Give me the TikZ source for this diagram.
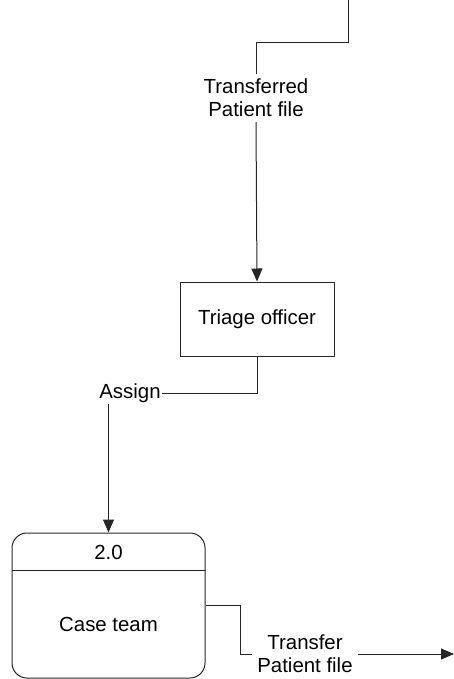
\documentclass[tikz,border=0pt]{standalone}
\usepackage{fontspec}
\setmainfont[Ligatures={NoCommon}]{Liberation Sans}
\usetikzlibrary{arrows.meta,calc}
\begin{document}
\begin{tikzpicture}[x=1pt,y=-1pt,
  line/.style={draw=black!85,line width=1pt},
  flow/.style={line,-{Triangle[length=13pt,width=11pt]}},
  lbl/.style={font=\fontsize{20.4}{23}\selectfont,align=center,inner sep=5pt},
  procbox/.style={line,rectangle,minimum width=154pt,minimum height=74pt,inner sep=0pt,font=\fontsize{20.4}{23}\selectfont},
  casebox/.style={line,rectangle,rounded corners=15pt,minimum width=193pt,minimum height=145pt,inner sep=0pt}
]
\useasboundingbox (0,0) rectangle (454,679);
% nodes
\coordinate (src) at (348,0);
\coordinate (bend) at (348,43);
\node[lbl] (t1) at (256,98) {Transferred\\Patient file};
\node[procbox] (triage) at (257,319) {Triage officer};
\node[lbl,inner sep=1pt] (assign) at (130,393) {Assign};
\node[casebox] (case) at (108.5,605.5) {};
\draw[line] (case.west |- 0,570) -- (case.east |- 0,570);
\node[lbl,inner sep=0pt] (num) at (108.5,552) {2.0};
\node[lbl,inner sep=0pt] (casetxt) at (108.5,624) {Case team};
\node[lbl] (t2) at (305,654) {Transfer\\Patient file};
\coordinate (out) at (454,654);
% connectors
\draw[line] (src) -- (bend) -| (t1.north);
\draw[flow] (t1.south) -- (triage.north);
\draw[line] (triage.south) |- (assign.east);
\draw[flow] (assign.south -| case.north) -- (case.north);
\draw[line] (case.east) -- ++(35,0) |- (t2.west);
\draw[flow] (t2.east) -- (out);
\end{tikzpicture}
\end{document}
